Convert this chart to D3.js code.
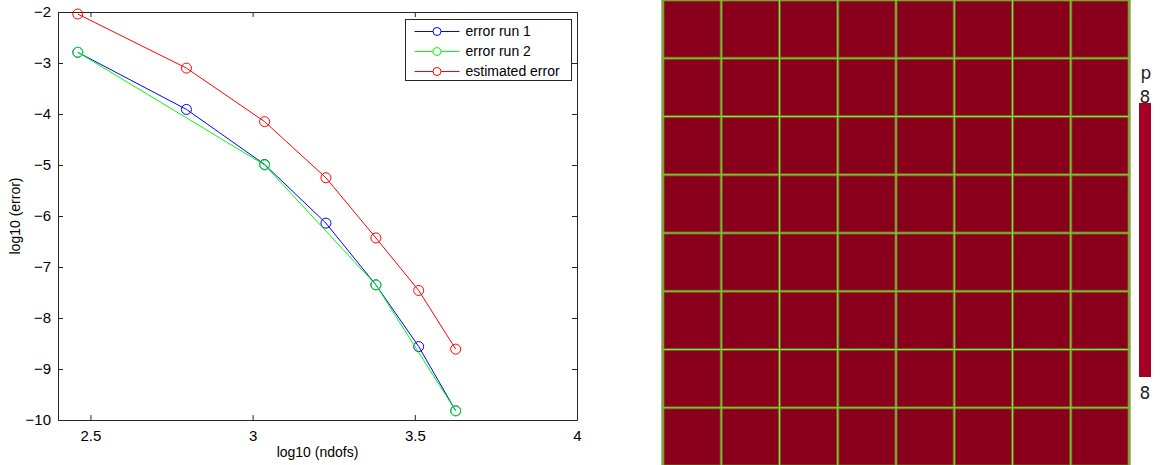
<!DOCTYPE html>
<html>
<head>
<meta charset="utf-8">
<script src="https://cdn.jsdelivr.net/npm/d3@7"></script>
<style>
  body { margin: 0; background: #fff; }
  svg { display: block; font-family: "Liberation Sans", Arial, sans-serif; }
</style>
</head>
<body>
<svg id="chart" width="1163" height="465"></svg>
<script>
// ---- data ----
const xFine = [2.461, 2.796, 3.037, 3.226, 3.380, 3.512, 3.626];
const xCoarse = [2.461, 3.037, 3.380, 3.626];
const errRun1 = [-2.79, -3.91, -4.99, -6.14, -7.35, -8.56, -9.82];
const errRun2 = [-2.79, -5.00, -7.35, -9.82];
const errEstimated = [-2.04, -3.10, -4.15, -5.25, -6.43, -7.46, -8.61];

const xTicks = [2.5, 3, 3.5, 4];
const yTicks = [-2, -3, -4, -5, -6, -7, -8, -9, -10];

const seriesNames = ["error run 1", "error run 2", "estimated error"];
const seriesColors = ["#0000ff", "#00ff00", "#ff0000"];

// right panel: 8 x 8 mesh, one value p = 8 everywhere
const meshCols = d3.range(8);
const meshRows = d3.range(8);
const colorbarLabels = ["8", "8"];
const colorbarTitle = "p";

const svg = d3.select("#chart");

/* ------------------------------
   LEFT: ERROR PLOT
------------------------------ */

const plot = { left: 58, right: 577, top: 12, bottom: 420 };

const x = d3.scaleLinear().domain([2.4, 4]).range([plot.left, plot.right]);
const y = d3.scaleLinear().domain([-10, -2]).range([plot.bottom, plot.top]);

const axisColor = "#262626";

// axes on all four sides, ticks pointing in
const g = svg.append("g");

g.append("g")
    .attr("transform", `translate(0,${plot.bottom})`)
    .call(d3.axisBottom(x).tickValues(xTicks).tickSizeInner(-5).tickSizeOuter(0).tickPadding(10)
        .tickFormat(d3.format("")));
g.append("g")
    .attr("transform", `translate(0,${plot.top})`)
    .call(d3.axisTop(x).tickValues(xTicks).tickSizeInner(-5).tickSizeOuter(0).tickFormat(""));
g.append("g")
    .attr("transform", `translate(${plot.left},0)`)
    .call(d3.axisLeft(y).tickValues(yTicks).tickSizeInner(-5).tickSizeOuter(0).tickPadding(7)
        .tickFormat(d => d3.format("")(d).replace("-", "\u2212")));
g.append("g")
    .attr("transform", `translate(${plot.right},0)`)
    .call(d3.axisRight(y).tickValues(yTicks).tickSizeInner(-5).tickSizeOuter(0).tickFormat(""));

g.selectAll(".domain").attr("stroke", axisColor).attr("stroke-width", 1);
g.selectAll(".tick line").attr("stroke", axisColor);
g.selectAll(".tick text").attr("fill", "#000").style("font-size", "15px");

// axis titles
svg.append("text")
    .attr("x", (plot.left + plot.right) / 2)
    .attr("y", 457)
    .attr("text-anchor", "middle")
    .style("font-size", "14px")
    .text("log10 (ndofs)");

svg.append("text")
    .attr("transform", `translate(20,${(plot.top + plot.bottom) / 2}) rotate(-90)`)
    .attr("text-anchor", "middle")
    .style("font-size", "14px")
    .text("log10 (error)");

// series
const series = [
    { xs: xFine, ys: errRun1 },
    { xs: xCoarse, ys: errRun2 },
    { xs: xFine, ys: errEstimated }
];

const line = d3.line().x(d => x(d[0])).y(d => y(d[1]));

series.forEach((s, i) => {
    const pts = s.xs.map((v, j) => [v, s.ys[j]]);
    const sg = svg.append("g");
    sg.append("path")
        .datum(pts)
        .attr("d", line)
        .attr("fill", "none")
        .attr("stroke", seriesColors[i])
        .attr("stroke-width", 1);
    sg.selectAll("circle")
        .data(pts)
        .enter()
        .append("circle")
        .attr("cx", d => x(d[0]))
        .attr("cy", d => y(d[1]))
        .attr("r", 5)
        .attr("fill", "none")
        .attr("stroke", seriesColors[i])
        .attr("stroke-width", 1);
});

// legend
const legend = svg.append("g").attr("transform", "translate(405.5,19.5)");
legend.append("rect")
    .attr("width", 166)
    .attr("height", 61)
    .attr("fill", "#fff")
    .attr("stroke", axisColor);

const legendY = d3.scalePoint().domain(seriesNames).range([12, 52]);

seriesNames.forEach((name, i) => {
    const ly = legendY(name);
    legend.append("line")
        .attr("x1", 9).attr("x2", 54)
        .attr("y1", ly).attr("y2", ly)
        .attr("stroke", seriesColors[i]);
    legend.append("circle")
        .attr("cx", 31.5).attr("cy", ly).attr("r", 4)
        .attr("fill", "#fff")
        .attr("stroke", seriesColors[i]);
    legend.append("text")
        .attr("x", 60).attr("y", ly)
        .attr("dy", "0.35em")
        .style("font-size", "14px")
        .text(name);
});

/* ------------------------------
   RIGHT: MESH + COLORBAR
------------------------------ */

const meshX = d3.scaleBand().domain(meshCols).range([663, 1129]);
const meshY = d3.scaleBand().domain(meshRows).range([0, 466]);

const cells = [];
meshRows.forEach(r => meshCols.forEach(c => cells.push({ r, c })));

const mesh = svg.append("g");
mesh.selectAll("rect")
    .data(cells)
    .enter()
    .append("rect")
    .attr("x", d => meshX(d.c))
    .attr("y", d => meshY(d.r))
    .attr("width", meshX.bandwidth())
    .attr("height", meshY.bandwidth())
    .attr("fill", "#8a001c");

// mesh edges: olive rim with bright green core
const edgesV = d3.range(meshCols.length + 1).map(i => 663 + i * meshX.step());
const edgesH = d3.range(meshRows.length + 1).map(i => i * meshY.step());

[{ w: 3, c: "#6f6a1a" }, { w: 1, c: "#8fd64a" }].forEach(st => {
    mesh.append("g").selectAll("line")
        .data(edgesV).enter().append("line")
        .attr("x1", d => d).attr("x2", d => d)
        .attr("y1", 0).attr("y2", 466)
        .attr("stroke", st.c).attr("stroke-width", st.w);
    mesh.append("g").selectAll("line")
        .data(edgesH).enter().append("line")
        .attr("y1", d => d).attr("y2", d => d)
        .attr("x1", 663).attr("x2", 1129)
        .attr("stroke", st.c).attr("stroke-width", st.w);
});

// colorbar
const cb = svg.append("g");
cb.append("rect")
    .attr("x", 1139).attr("y", 103)
    .attr("width", 12).attr("height", 274)
    .attr("fill", "#a50026");

cb.append("text")
    .attr("x", 1146).attr("y", 79)
    .attr("text-anchor", "middle")
    .style("font-family", "'DejaVu Sans', sans-serif")
    .style("font-size", "17px")
    .attr("fill", "#222")
    .text(colorbarTitle);

const cbLabelY = d3.scalePoint().domain([0, 1]).range([97, 393]);
colorbarLabels.forEach((lab, i) => {
    cb.append("text")
        .attr("x", 1145).attr("y", cbLabelY(i))
        .attr("dy", "0.35em")
        .attr("text-anchor", "middle")
        .style("font-family", "'DejaVu Sans', sans-serif")
        .style("font-size", "17px")
        .attr("fill", "#222")
        .text(lab);
});
</script>
</body>
</html>
